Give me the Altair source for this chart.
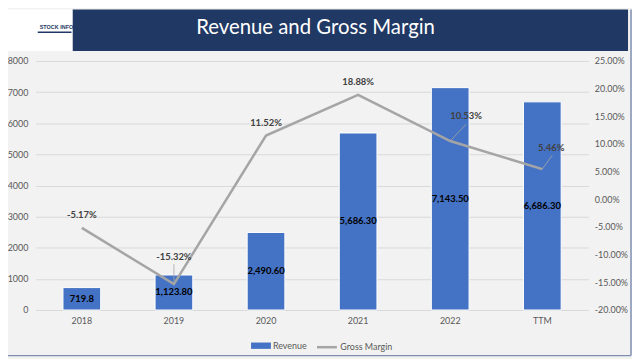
import altair as alt
import pandas as pd

years = ["2018", "2019", "2020", "2021", "2022", "TTM"]
revenue = [719.8, 1123.8, 2490.6, 5686.3, 7143.5, 6686.3]
revenue_labels = ["719.8", "1,123.80", "2,490.60", "5,686.30", "7,143.50", "6,686.30"]
gross_margin = [-5.17, -15.32, 11.52, 18.88, 10.53, 5.46]
gross_margin_labels = ["-5.17%", "-15.32%", "11.52%", "18.88%", "10.53%", "5.46%"]
left_ticks = [0, 1000, 2000, 3000, 4000, 5000, 6000, 7000, 8000]
right_ticks = [-20, -15, -10, -5, 0, 5, 10, 15, 20, 25]

df = pd.DataFrame({
    "year": years,
    "revenue": revenue,
    "rev_label": revenue_labels,
    "gm": gross_margin,
    "gm_label": gross_margin_labels,
})

FONT = "Lato"
AXIS_GRAY = "#595959"
BAR_BLUE = "#4472c4"
LINE_GRAY = "#a5a5a5"
NAVY = "#1f3864"

x_enc = alt.X(
    "year:N", sort=years, title=None,
    scale=alt.Scale(paddingInner=0, paddingOuter=0),
    axis=alt.Axis(title=None, labelAngle=0, ticks=False, domain=False,
                  labelColor=AXIS_GRAY, labelFontSize=9, labelFont=FONT,
                  labelPadding=7),
)

rev_scale = alt.Scale(domain=[0, 8000], nice=False, zero=True)
gm_scale = alt.Scale(domain=[-20, 25], nice=False, zero=False)

rev_axis = alt.Axis(title=None, values=left_ticks, format="d", ticks=False,
                    domain=False, grid=True, gridColor="#d9d9d9",
                    labelColor=AXIS_GRAY, labelFontSize=9, labelFont=FONT,
                    labelPadding=8)
gm_axis = alt.Axis(title=None, orient="right", values=right_ticks, ticks=False,
                   domain=False, grid=False, labelColor=AXIS_GRAY,
                   labelFontSize=9, labelFont=FONT, labelPadding=6,
                   labelExpr="replace(format(datum.value, '.2f'), '\u2212', '-') + '%'")

base = alt.Chart(df)

bars = base.transform_calculate(series="'Revenue'").mark_bar(
    size=38, stroke="#ffffff", strokeWidth=1
).encode(
    x=x_enc,
    y=alt.Y("revenue:Q", scale=rev_scale, axis=rev_axis, title=None),
    color=alt.Color("series:N",
                    scale=alt.Scale(domain=["Revenue"], range=[BAR_BLUE]),
                    legend=alt.Legend(title=None, orient="none", legendX=217, legendY=277,
                                      symbolType="M-1,-0.32H1V0.32H-1Z", symbolSize=400,
                                      symbolStrokeWidth=0, labelFontSize=9,
                                      labelFont=FONT, labelColor=AXIS_GRAY,
                                      labelOffset=2, padding=0)),
)

bar_labels = base.transform_calculate(mid="datum.revenue / 2").mark_text(
    font=FONT, fontSize=9.5, fontWeight="bold", color="#000000", baseline="middle"
).encode(
    x=alt.X("year:N", sort=years, title=None),
    y=alt.Y("mid:Q", scale=rev_scale, axis=rev_axis, title=None),
    text="rev_label:N",
)

one = alt.Chart(pd.DataFrame({"k": [0]}))

banner = one.mark_rect(color=NAVY).encode(
    x=alt.value(37), x2=alt.value(597), y=alt.value(-52), y2=alt.value(-10))
logo_box = one.mark_rect(color="#ffffff").encode(
    x=alt.value(-28), x2=alt.value(37), y=alt.value(-52), y2=alt.value(-10))
logo_text = one.mark_text(font="Liberation Sans", fontSize=5.5, fontWeight="bold",
                          color=NAVY, align="left", baseline="middle").encode(
    x=alt.value(4), y=alt.value(-34), text=alt.value("STOCK INFO"))
logo_rule = one.mark_rule(color=NAVY, strokeWidth=1.5).encode(
    x=alt.value(2), x2=alt.value(36), y=alt.value(-29))
title = one.mark_text(font=FONT, fontSize=20.5, color="#ffffff",
                      align="center", baseline="middle").encode(
    x=alt.value(282), y=alt.value(-33), text=alt.value("Revenue and Gross Margin"))
frame_right = one.mark_rule(color="#7f8fb0", strokeWidth=1.5).encode(
    x=alt.value(600), y=alt.value(-52), y2=alt.value(297))
frame_bottom = one.mark_rule(color="#7f8fb0", strokeWidth=1.5).encode(
    x=alt.value(-28), x2=alt.value(600), y=alt.value(297))

line = base.transform_calculate(series="'Gross Margin'").mark_line(strokeWidth=2.5).encode(
    x=alt.X("year:N", sort=years, title=None),
    y=alt.Y("gm:Q", scale=gm_scale, axis=gm_axis, title=None),
    stroke=alt.Stroke("series:N",
                      scale=alt.Scale(domain=["Gross Margin"], range=[LINE_GRAY]),
                      legend=alt.Legend(title=None, orient="none", legendX=282, legendY=277,
                                        symbolType="stroke", symbolSize=400,
                                        symbolStrokeWidth=2.5, labelFontSize=9,
                                        labelFont=FONT, labelColor=AXIS_GRAY,
                                        labelOffset=2, padding=0)),
)


def gm_text(years_sel, dx, dy):
    return base.transform_filter(
        alt.FieldOneOfPredicate(field="year", oneOf=years_sel)
    ).mark_text(font=FONT, fontSize=9.5, fontWeight="bold", color="#404040",
                baseline="middle", dx=dx, dy=dy).encode(
        x=alt.X("year:N", sort=years, title=None),
        y=alt.Y("gm:Q", scale=gm_scale, axis=gm_axis, title=None),
        text="gm_label:N",
    )


def leader(year, x2off, y1off, y2off):
    return base.transform_filter(alt.datum.year == year).mark_rule(
        color=LINE_GRAY, strokeWidth=0.8, yOffset=y1off, x2Offset=x2off, y2Offset=y2off
    ).encode(
        x=alt.X("year:N", sort=years, bandPosition=0.5, title=None),
        x2=alt.X2("year", bandPosition=0.5),
        y=alt.Y("gm:Q", scale=gm_scale, axis=gm_axis, title=None),
        y2=alt.Y2("gm"),
    )


gm_labels = alt.layer(
    gm_text(["2018", "2020", "2021"], 0, -13),
    gm_text(["2019"], 0, -27),
    gm_text(["2022"], 16, -25),
    gm_text(["TTM"], 9, -21),
)
leaders = alt.layer(
    leader("2019", 0, -2, -20),
    leader("2022", 16, 0, -17),
    leader("TTM", 10, 0, -14),
)

rev_layer = alt.layer(banner, logo_box, logo_text, logo_rule, title,
                      frame_right, frame_bottom, bars, bar_labels)
gm_layer = alt.layer(line, leaders, gm_labels)

chart = alt.layer(rev_layer, gm_layer).resolve_scale(
    y="independent", color="independent", stroke="independent"
).properties(
    width=557, height=251,
    autosize=alt.AutoSizeParams(type="none"),
    padding={"left": 28, "top": 52, "right": 44, "bottom": 48},
).configure(background="#f2f2f2").configure_view(stroke=None)

chart.save("out.html", embed_options={"renderer": "svg", "actions": False})
